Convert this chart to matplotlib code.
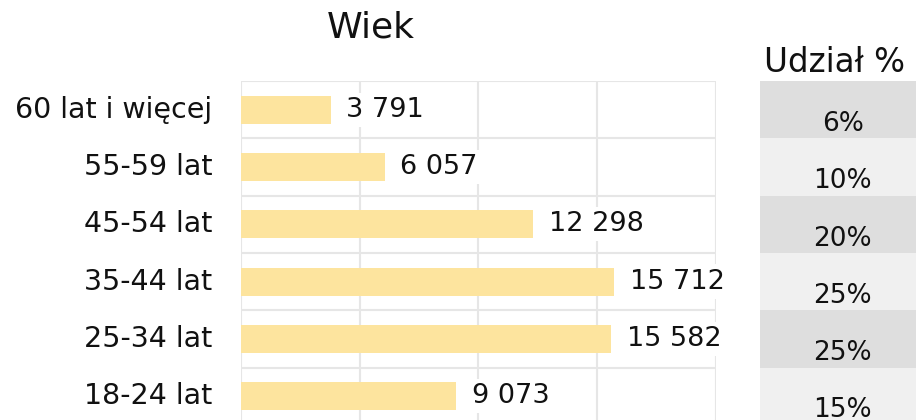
import matplotlib.pyplot as plt

plt.rcParams['font.family'] = ['DejaVu Sans']

categories = ['60 lat i więcej', '55-59 lat', '45-54 lat', '35-44 lat', '25-34 lat', '18-24 lat']
values = [3791, 6057, 12298, 15712, 15582, 9073]
shares = ['6%', '10%', '20%', '25%', '25%', '15%']

W, H = 916, 420
fig = plt.figure(figsize=(W / 100, H / 100), dpi=100)

# wiersze: góra na 81 px, każdy ~57 px
top = 81
row_h = 57.3
n = len(categories)
ax_bottom = 1 - (top + n * row_h) / H
ax_height = n * row_h / H

ax = fig.add_axes([241 / W, ax_bottom, (716 - 241) / W, ax_height])
y = list(range(n))
ax.barh(y, values, height=0.49, color='#fde49e', zorder=2)
ax.set_xlim(0, 20000)
ax.set_ylim(n - 0.5, -0.5)
ax.set_xticks([0, 5000, 10000, 15000, 20000])
ax.set_yticks([i + 0.5 for i in range(-1, n)])
ax.tick_params(length=0, labelbottom=False, labelleft=False)
ax.grid(True, color='#e6e6e6', linewidth=1.5, zorder=0)
for s in ax.spines.values():
    s.set_visible(False)

for i, (c, v) in enumerate(zip(categories, values)):
    ax.text(-1200, i, c, ha='right', va='center', fontsize=20.5, color='#111111')
    lbl = f'{v:,}'.replace(',', ' ')
    ax.text(v + 650, i, lbl, ha='left', va='center', fontsize=19.5, color='#111111', zorder=3,
            bbox=dict(boxstyle='square,pad=0.15', fc='white', ec='none'))

fig.text(371 / W, 1 - 27 / H, 'Wiek', ha='center', va='center', fontsize=26, color='#111111')

# tabela udziałów
tx = fig.add_axes([760 / W, ax_bottom, (W - 760) / W + 0.01, ax_height])
cell_colors = ['#dedede' if i % 2 == 0 else '#f0f0f0' for i in range(n)]
tx.barh(y, [1] * n, height=1.0, color=cell_colors)
tx.set_xlim(0, 1)
tx.set_ylim(n - 0.5, -0.5)
tx.axis('off')
for i, s in enumerate(shares):
    tx.text(0.5, i + 0.25, s, ha='center', va='center', fontsize=19, color='#111111')
fig.text(835 / W, 1 - 62 / H, 'Udział %', ha='center', va='center', fontsize=23.5, color='#111111')

fig.savefig('out.png', dpi=100)
